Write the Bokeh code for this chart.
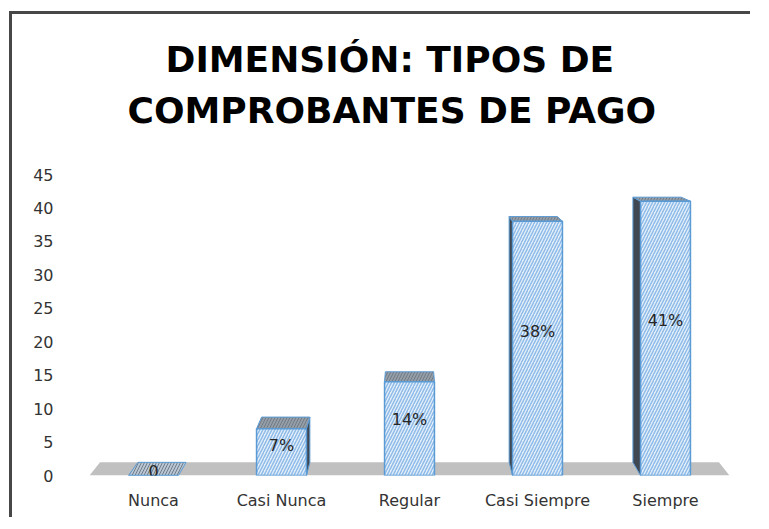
from bokeh.plotting import figure
from bokeh.models import Range1d, FixedTicker, Title, ColumnDataSource
from bokeh.core.properties import value
from bokeh.embed import file_html
from bokeh.resources import INLINE

# ---- data ----
categories = ["Nunca", "Casi Nunca", "Regular", "Casi Siempre", "Siempre"]
counts = [0, 7, 14, 38, 41]
bar_labels = ["0", "7%", "14%", "38%", "41%"]
y_ticks = [0, 5, 10, 15, 20, 25, 30, 35, 40, 45]
title_line1 = "DIMENSIÓN: TIPOS DE"
title_line2 = "COMPROBANTES DE PAGO"

# ---- style / pseudo-3D parameters ----
FONT = "DejaVu Sans"
bar_w = 0.39
k = 0.033           # depth factor (perspective)
vx, vy = 2.0, 59.5  # vanishing point in data space

def back(x, y):
    return x + k * (vx - x), y + k * (vy - y)

xs = list(range(len(categories)))

p = figure(width=741, height=506, output_backend="svg", toolbar_location=None,
           x_range=Range1d(-0.5, len(categories) - 0.5), y_range=Range1d(0, 45),
           min_border_left=77, min_border_right=24, min_border_top=160, min_border_bottom=45,
           background_fill_color="white", border_fill_color="white",
           styles={"border-top": "3px solid #474747", "border-left": "3px solid #474747",
                   "margin-left": "9px", "margin-top": "11px"})
p.outline_line_color = None
p.grid.visible = False

# titles (added closest-to-frame first)
p.title.visible = False
spacer = Title(text=" ", text_font_size="2px", standoff=40)
t2 = Title(text=title_line2, align="left", text_font=FONT, text_font_size="36px",
           text_font_style="bold", text_color="#000000", offset=38, standoff=0)
t1 = Title(text=title_line1, align="left", text_font=FONT, text_font_size="36px",
           text_font_style="bold", text_color="#000000", offset=76, standoff=16)
p.add_layout(spacer, "above")
p.add_layout(t2, "above")
p.add_layout(t1, "above")

# floor
fx0, fx1 = -0.5, len(categories) - 0.5
bl = back(fx0, 0)
br = back(fx1, 0)
p.patch(x=[fx0, fx1, br[0], bl[0]], y=[0, 0, br[1], bl[1]],
        fill_color="#c0c0c0", line_color=None)

# side faces
side_xs, side_ys = [], []
for i, v in zip(xs, counts):
    xl, xr = i - bar_w / 2, i + bar_w / 2
    if v <= 0 or i == vx:
        continue
    edge = xr if i < vx else xl
    b0 = back(edge, 0)
    b1 = back(edge, v)
    side_xs.append([edge, edge, b1[0], b0[0]])
    side_ys.append([0, v, b1[1], b0[1]])
p.patches(xs=side_xs, ys=side_ys, fill_color="#3f4852", line_color="#5b9bd5", line_width=1)

# top faces
top_xs, top_ys, top_fill = [], [], []
for i, v in zip(xs, counts):
    xl, xr = i - bar_w / 2, i + bar_w / 2
    bl_ = back(xl, v)
    br_ = back(xr, v)
    top_xs.append([xl, xr, br_[0], bl_[0]])
    top_ys.append([v, v, br_[1], bl_[1]])
    top_fill.append("#b9c6d3" if v == 0 else "#959da6")
top_src = ColumnDataSource(dict(xs=top_xs, ys=top_ys, fill=top_fill))
p.patches(xs="xs", ys="ys", source=top_src, fill_color="fill", line_color="#5b9bd5", line_width=1,
          hatch_pattern="/", hatch_color="#6f7b88", hatch_scale=6, hatch_weight=1)

# front faces
src = ColumnDataSource(dict(x=xs, top=counts, lab=bar_labels,
                            ly=[v * 0.55 + 0.6 for v in counts]))
p.vbar(x="x", top="top", bottom=0, width=bar_w, source=src,
       fill_color="#e6f0fb", line_color="#5b9bd5", line_width=1.5,
       hatch_pattern="/", hatch_color="#8ebbe8", hatch_scale=6, hatch_weight=1.5)

p.text(x="x", y="ly", text="lab", source=src, text_align="center", text_baseline="middle",
       text_font=value(FONT), text_font_size="16px", text_color="#262626")

# axes
p.xaxis.ticker = FixedTicker(ticks=xs)
p.xaxis.major_label_overrides = {i: c for i, c in zip(xs, categories)}
p.yaxis.ticker = FixedTicker(ticks=y_ticks)
for ax in (p.xaxis[0], p.yaxis[0]):
    ax.axis_line_color = None
    ax.major_tick_line_color = None
    ax.minor_tick_line_color = None
    ax.major_tick_out = 0
    ax.minor_tick_out = 0
    ax.major_label_text_font = FONT
    ax.major_label_text_font_size = "16px"
    ax.major_label_text_color = "#333333"
p.xaxis.major_label_standoff = 15
p.yaxis.major_label_standoff = 36

open("out.html", "w").write(file_html(p, INLINE))
